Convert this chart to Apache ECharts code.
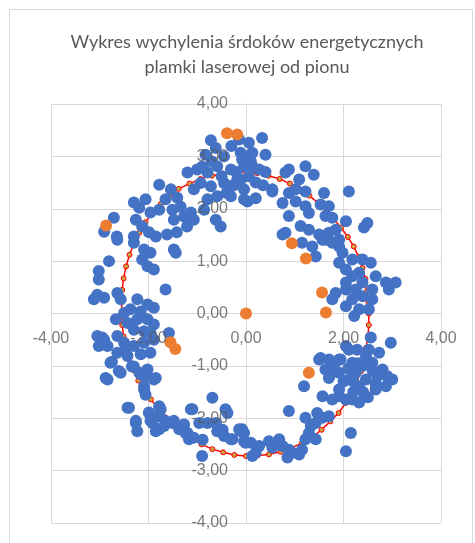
<!DOCTYPE html>
<html>
<head>
<meta charset="utf-8">
<script src="https://cdn.jsdelivr.net/npm/echarts@6/dist/echarts.min.js"></script>
<style>
  html, body { margin: 0; padding: 0; background: #fff; }
  #chart { width: 475px; height: 543px; }
</style>
</head>
<body>
<div id="chart"></div>
<script>
// tytul wykresu
var titleLines = ['Wykres wychylenia śrdoków energetycznych', 'plamki laserowej od pionu']
// zakres osi i podpisy osi
var axisMin = -4
var axisMax = 4
var xTickValues = [-4, -2, 0, 2, 4]
var yTickValues = [-4, -3, -2, -1, 0, 1, 2, 3, 4]

// punkty pomiarowe (niebieskie)
var bluePoints = [
  [-1.78, 2.46], [-1.54, 2.37], [-1.65, 2.18], [-1.41, 2.21], [-2.30, 2.12], [-2.06, 2.18],
  [-2.19, 2.02], [-1.96, 1.93], [-1.78, 1.98], [-1.51, 1.98], [-1.34, 2.04], [-1.48, 1.79],
  [-1.27, 1.85], [-1.13, 1.93], [-2.71, 1.83], [-2.91, 1.56], [-2.65, 1.47], [-2.26, 1.79],
  [-2.13, 1.66], [-2.30, 1.47], [-1.99, 1.55], [-1.85, 1.47], [-1.62, 1.51], [-1.42, 1.55],
  [-1.21, 1.66], [-1.07, 1.79], [-0.62, 1.79], [-0.52, 1.66], [-0.86, 1.98],
  [-0.72, 3.31], [-0.62, 3.16], [-0.83, 3.03], [-0.45, 3.00], [-0.11, 3.07], [-1.20, 2.69],
  [-1.00, 2.75], [-0.79, 2.69], [-0.59, 2.81], [-0.31, 2.75], [-0.04, 2.81], [-0.93, 2.49],
  [-0.72, 2.43], [-0.45, 2.49], [-0.18, 2.56], [-1.07, 2.37], [-0.59, 2.24], [-0.31, 2.24],
  [-0.04, 2.18], [-0.79, 2.18], [-0.31, 2.43],
  [-0.30, 3.20], [0.00, 3.00], [-0.50, 2.62], [-0.20, 2.70], [0.20, 2.50], [0.10, 2.90],
  [-0.70, 2.90], [-0.90, 2.80], [0.40, 2.70], [-0.40, 2.30], [0.35, 2.45], [-0.25, 2.45], [0.20, 2.20],
  [-0.14, 3.32], [0.06, 3.26], [0.33, 3.35], [0.13, 3.07], [0.40, 3.03], [-0.08, 2.94],
  [0.13, 2.81], [0.27, 2.75], [-0.11, 2.56], [0.06, 2.62], [-0.04, 2.37], [0.03, 2.14],
  [0.54, 2.33], [0.75, 2.11], [0.81, 2.69], [0.88, 2.75], [1.09, 2.56], [1.22, 2.81],
  [1.39, 2.65], [1.02, 2.37], [1.22, 2.33], [0.88, 2.30], [1.02, 2.14], [1.22, 2.05],
  [1.29, 1.92], [1.60, 2.30], [1.53, 2.08], [1.70, 2.05], [1.63, 1.86], [1.77, 1.83],
  [2.11, 2.33], [2.49, 1.73], [2.42, 1.64], [0.88, 1.86], [0.81, 1.54], [1.12, 1.67],
  [1.29, 1.60], [1.50, 1.51], [1.70, 1.54], [1.84, 1.60], [2.05, 1.76], [1.91, 1.41],
  [1.63, 1.41], [0.75, 1.51], [0.54, 2.37],
  [-2.64, 1.41], [-2.30, 1.35], [-2.09, 1.22], [-1.96, 1.16], [-2.13, 1.03], [-2.02, 0.90],
  [-1.89, 0.84], [-1.48, 1.22], [-1.44, 1.16], [-2.81, 1.00], [-3.02, 0.81], [-3.02, 0.65],
  [-1.65, 0.46], [-3.05, 0.36], [-3.12, 0.27], [-2.91, 0.30], [-2.64, 0.39], [-2.57, 0.27],
  [-2.23, 0.27], [-2.02, 0.17], [-1.89, 0.11], [-2.37, 0.08], [-2.16, 0.04], [-2.50, 0.01],
  [-2.67, -0.11], [-2.43, -0.18], [-2.23, -0.11], [-2.02, -0.11], [-1.89, -0.21], [-2.30, -0.31],
  [-2.09, -0.34], [-1.96, -0.37], [-3.05, -0.43], [-2.91, -0.50], [-2.64, -0.43], [-2.50, -0.56],
  [-2.30, -0.62], [-2.09, -0.56], [-1.89, -0.50], [-1.58, -0.37], [-2.64, -0.75], [-2.43, -0.81],
  [-2.16, -0.78], [-1.96, -0.75], [-3.02, -0.62], [-2.84, -0.62],
  [-2.95, -0.46], [-2.88, -1.23], [-2.75, -0.92], [-2.61, -1.10], [-2.47, -0.69], [-2.34, -1.01],
  [-2.19, -1.13], [-2.06, -1.20], [-1.85, -1.23], [-2.09, -1.39], [-2.40, -1.80], [-2.26, -2.05],
  [-1.99, -1.89], [-1.92, -2.09], [-1.78, -1.96], [-1.78, -1.77], [-1.65, -2.05], [-1.78, -2.21],
  [-1.51, -2.09], [-1.37, -2.21], [-1.24, -2.28], [-1.17, -2.40], [-1.10, -1.83], [-0.96, -2.09],
  [-0.89, -2.41], [-0.69, -1.61], [-0.62, -2.09], [-0.48, -2.22], [-0.42, -1.83], [-0.90, -2.72],
  [-0.28, -2.40], [-0.08, -2.21], [-0.01, -2.47], [0.13, -2.72],
  [-2.78, -0.94], [-2.57, -1.13], [-2.84, -1.26], [-2.30, -1.01], [-2.16, -1.16], [-2.02, -1.07],
  [-1.89, -1.26], [-2.09, -1.45], [-2.06, -1.55], [-2.43, -1.80], [-2.26, -2.09], [-2.23, -2.25],
  [-1.99, -1.90], [-1.96, -2.05], [-1.85, -2.25], [-1.89, -1.99], [-1.75, -1.83], [-1.68, -2.15],
  [-1.48, -2.05], [-1.27, -2.12], [-1.13, -1.83], [-1.20, -2.28], [-1.07, -2.37], [-0.79, -2.09],
  [-0.59, -2.25], [-0.45, -2.34], [-0.38, -1.90], [-0.31, -2.40], [-0.11, -2.25], [-0.04, -2.44],
  [-0.14, -2.21], [-0.04, -2.28], [0.10, -2.47], [0.20, -2.66], [0.27, -2.53], [0.47, -2.44],
  [0.54, -2.56], [0.68, -2.40], [0.75, -2.53], [0.88, -2.60], [0.95, -2.66], [0.85, -2.75],
  [1.09, -2.69], [1.22, -2.40], [1.15, -2.60], [1.43, -2.40], [1.33, -2.15], [1.22, -1.99],
  [1.46, -1.90], [1.57, -1.99], [1.70, -1.96], [0.88, -1.86], [1.19, -1.39], [2.15, -2.28],
  [2.05, -2.63], [1.43, -2.09], [1.29, -2.28],
  [1.50, -0.88], [1.63, -1.07], [1.70, -1.23], [1.57, -1.58], [1.77, -1.64], [1.91, -1.45],
  [2.11, -1.26], [2.32, -1.39], [2.46, -1.26], [2.66, -1.35], [2.87, -1.39], [3.00, -1.26],
  [2.80, -1.07], [2.59, -0.94], [2.18, -0.94], [1.91, -0.88], [2.05, -1.64], [2.32, -1.70],
  [1.91, -1.13], [2.25, -1.13], [2.11, -0.69], [2.66, -1.45], [1.77, -1.13], [1.91, -1.58],
  [2.18, -1.64], [2.40, -1.00], [2.60, -1.10], [2.20, -1.30], [2.00, -1.30], [2.40, -1.50],
  [2.70, -1.20], [2.90, -1.20], [2.10, -1.05], [2.30, -0.95], [1.80, -1.00], [2.50, -1.60], [2.20, -1.50],
  [1.15, 1.35], [1.36, 1.28], [1.57, 1.41], [1.77, 1.35], [1.91, 1.28], [1.98, 1.16],
  [1.91, 0.97], [2.05, 0.84], [2.18, 1.03], [2.39, 1.03], [2.56, 0.97], [2.32, 0.78],
  [2.18, 0.71], [2.39, 0.59], [2.66, 0.71], [2.87, 0.59], [3.07, 0.59], [2.93, 0.46],
  [2.59, 0.46], [2.25, 0.46], [2.05, 0.46], [1.84, 0.39], [1.77, 0.27], [2.05, 0.14],
  [2.22, -0.05], [2.18, 0.27], [2.39, 0.33], [2.59, 0.27], [2.52, 0.08], [2.32, 0.08],
  [2.56, -0.46], [2.05, -0.62], [2.28, -0.69], [2.52, -0.69], [2.73, -0.75], [2.97, -0.56],
  [2.46, -0.81], [1.53, -0.85], [1.70, -0.88], [1.94, -0.88], [1.43, 1.09], [2.05, 0.59]
]

// punkty pomarańczowe
var orangePoints = [
  [-0.39, 3.44], [-0.18, 3.42], [-2.87, 1.68], [0.94, 1.34], [1.23, 1.05], [1.56, 0.40],
  [0.00, 0.00], [1.64, 0.02], [1.29, -1.13], [-1.55, -0.55], [-1.45, -0.68]
]

// okrąg dopasowania (czerwona linia)
var fitCircle = [
  [2.52, 0.00], [2.51, 0.22], [2.49, 0.44], [2.45, 0.66], [2.39, 0.87], [2.31, 1.08],
  [2.21, 1.28], [2.09, 1.46], [1.95, 1.64], [1.80, 1.80], [1.65, 1.97], [1.48, 2.11],
  [1.30, 2.25], [1.11, 2.37], [0.90, 2.48], [0.69, 2.57], [0.46, 2.63], [0.23, 2.68],
  [0.00, 2.70], [-0.24, 2.70], [-0.47, 2.67], [-0.70, 2.63], [-0.93, 2.57], [-1.16, 2.48],
  [-1.38, 2.38], [-1.57, 2.24], [-1.75, 2.09], [-1.92, 1.92], [-2.07, 1.74], [-2.19, 1.54],
  [-2.30, 1.33], [-2.39, 1.12], [-2.46, 0.90], [-2.51, 0.67], [-2.54, 0.45], [-2.55, 0.22],
  [-2.55, 0.00], [-2.54, -0.22], [-2.51, -0.44], [-2.46, -0.66], [-2.40, -0.87], [-2.31, -1.08],
  [-2.21, -1.28], [-2.09, -1.46], [-1.95, -1.64], [-1.81, -1.81], [-1.66, -1.98], [-1.49, -2.13],
  [-1.31, -2.27], [-1.12, -2.39], [-0.91, -2.50], [-0.69, -2.59], [-0.47, -2.65], [-0.24, -2.70],
  [0.00, -2.72], [0.24, -2.71], [0.47, -2.69], [0.71, -2.64], [0.93, -2.57], [1.15, -2.47],
  [1.36, -2.36], [1.55, -2.22], [1.73, -2.06], [1.90, -1.90], [2.04, -1.71], [2.16, -1.51],
  [2.27, -1.31], [2.36, -1.10], [2.42, -0.88], [2.46, -0.66], [2.50, -0.44], [2.52, -0.22],
  [2.52, 0.00]
]

var labelFmt = function (v) { return v.toFixed(2).replace('.', ',') }
var gridColor = '#d9d9d9'
var textColor = '#595959'

// podpisy osi jako punkty bez symbolu, zeby lezaly przy osiach w zerze i nad punktami
var xLabelData = xTickValues.map(function (v) { return [v, 0] })
var yLabelData = yTickValues.map(function (v) { return [0, v] })

var myChart = echarts.init(document.getElementById('chart'))

var option = {
  animation: false,
  backgroundColor: '#ffffff',
  graphic: [
    {
      type: 'rect',
      z: -10,
      shape: { x: 9.5, y: 9.5, width: 463, height: 560 },
      style: { fill: 'none', stroke: gridColor, lineWidth: 1 }
    },
    {
      type: 'text',
      x: 247, y: 42,
      style: {
        text: titleLines[0], fill: textColor, font: '18px Lato',
        textAlign: 'center', textVerticalAlign: 'middle'
      }
    },
    {
      type: 'text',
      x: 247, y: 67,
      style: {
        text: titleLines[1], fill: textColor, font: '18px Lato',
        textAlign: 'center', textVerticalAlign: 'middle'
      }
    }
  ],
  grid: { left: 51, right: 34, top: 104, bottom: 20 },
  xAxis: {
    type: 'value', min: axisMin, max: axisMax, interval: 2,
    axisLine: { onZero: true, lineStyle: { color: gridColor, width: 1 } },
    axisTick: { show: false },
    axisLabel: { show: false },
    splitLine: { show: true, lineStyle: { color: gridColor, width: 1 } }
  },
  yAxis: {
    type: 'value', min: axisMin, max: axisMax, interval: 1,
    axisLine: { onZero: true, lineStyle: { color: gridColor, width: 1 } },
    axisTick: { show: false },
    axisLabel: { show: false },
    splitLine: { show: true, lineStyle: { color: gridColor, width: 1 } }
  },
  series: [
    {
      name: 'okrag',
      type: 'line',
      data: fitCircle,
      symbol: 'circle',
      symbolSize: 5,
      lineStyle: { color: '#ff0000', width: 1.5 },
      itemStyle: { color: '#c9a142', borderColor: '#ff0000', borderWidth: 1 },
      z: 2
    },
    {
      name: 'pomiary',
      type: 'scatter',
      data: bluePoints,
      symbolSize: 12,
      itemStyle: { color: '#4472c4', opacity: 1 },
      z: 3
    },
    {
      name: 'srodki',
      type: 'scatter',
      data: orangePoints,
      symbolSize: 12,
      itemStyle: { color: '#ed7d31', opacity: 1 },
      z: 4
    },
    {
      name: 'xLabels',
      type: 'scatter',
      data: xLabelData,
      symbolSize: 0,
      silent: true,
      z: 6,
      label: {
        show: true, position: 'bottom', distance: 17,
        color: textColor, fontSize: 16, fontFamily: 'Liberation Sans',
        formatter: function (p) { return labelFmt(p.value[0]) }
      }
    },
    {
      name: 'yLabels',
      type: 'scatter',
      data: yLabelData,
      symbolSize: 0,
      silent: true,
      z: 6,
      label: {
        show: true, position: 'left', distance: 18,
        color: textColor, fontSize: 16, fontFamily: 'Liberation Sans',
        formatter: function (p) { return labelFmt(p.value[1]) }
      }
    }
  ]
}
myChart.setOption(option)
</script>
</body>
</html>
